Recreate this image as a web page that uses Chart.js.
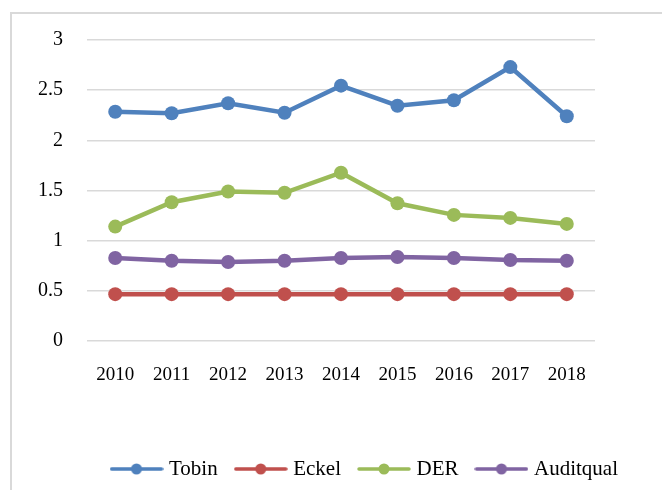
<!DOCTYPE html>
<html>
<head>
<meta charset="utf-8">
<script src="https://cdn.jsdelivr.net/npm/chart.js@4.4.1/dist/chart.umd.min.js"></script>
<style>
  html, body { margin: 0; padding: 0; background: #fff; overflow: hidden; }
  #frame { position: absolute; left: 10px; top: 12px; width: 700px; height: 520px;
           border-left: 2px solid #d9d9d9; border-top: 2px solid #d9d9d9; }
  #wrap { position: absolute; left: 0; top: 0; width: 662px; height: 510px; }
</style>
</head>
<body>
<div id="frame"></div>
<div id="wrap"><canvas id="chart"></canvas></div>
<script>
const years = ['2010', '2011', '2012', '2013', '2014', '2015', '2016', '2017', '2018'];
const tobin = [2.285, 2.27, 2.37, 2.275, 2.545, 2.345, 2.40, 2.73, 2.24];
const eckel = [0.467, 0.467, 0.467, 0.467, 0.467, 0.467, 0.467, 0.467, 0.467];
const der = [1.14, 1.383, 1.49, 1.477, 1.677, 1.373, 1.257, 1.227, 1.167];
const auditqual = [0.827, 0.80, 0.787, 0.80, 0.827, 0.837, 0.827, 0.807, 0.80];

const seriesNames = ['Tobin', 'Eckel', 'DER', 'Auditqual'];
const seriesColors = ['#4F81BD', '#C0504D', '#9BBB59', '#8064A2'];

const serif = '"Liberation Serif", "Times New Roman", serif';

// line + dot sample for the legend, like the office-style legend
function legendSample(color) {
    const c = document.createElement('canvas');
    c.width = 54;
    c.height = 14;
    const g = c.getContext('2d');
    g.strokeStyle = color;
    g.lineWidth = 3.5;
    g.lineCap = 'round';
    g.beginPath();
    g.moveTo(2, 7);
    g.lineTo(52, 7);
    g.stroke();
    g.fillStyle = color;
    g.beginPath();
    g.arc(27, 7, 5.5, 0, Math.PI * 2);
    g.fill();
    return c;
}

// moves the legend so that it sits where the reference has it
const legendShift = {
    id: 'legendShift',
    afterLayout(chart) {
        const l = chart.legend;
        const w = l.right - l.left;
        l.left = 93.5;
        l.right = l.left + w;
    }
};

const ctx = document.getElementById('chart').getContext('2d');
const lineChart = new Chart(ctx, {
    type: 'line',
    data: {
        labels: years,
        datasets: [tobin, eckel, der, auditqual].map((values, i) => ({
            label: seriesNames[i],
            data: values,
            borderColor: seriesColors[i],
            backgroundColor: seriesColors[i],
            borderWidth: 4.5,
            pointRadius: 7,
            pointHoverRadius: 7,
            pointBorderWidth: 0,
            tension: 0
        }))
    },
    options: {
        responsive: true,
        maintainAspectRatio: false,
        animation: false,
        layout: {
            padding: { left: 14, right: 67, top: 40, bottom: 20.5 }
        },
        scales: {
            x: {
                offset: true,
                grid: { display: false },
                border: { display: false },
                ticks: {
                    color: '#000',
                    padding: 15,
                    font: { family: serif, size: 19 }
                },
                afterFit(axis) { axis.height = 96.5; }
            },
            y: {
                min: 0,
                max: 3,
                grid: { color: '#d9d9d9', lineWidth: 1.5, drawTicks: false },
                border: { display: false },
                ticks: {
                    stepSize: 0.5,
                    color: '#000',
                    padding: 24,
                    font: { family: serif, size: 20 },
                    callback: v => String(+v.toFixed(2))
                }
            }
        },
        plugins: {
            tooltip: { enabled: false },
            legend: {
                position: 'bottom',
                align: 'start',
                labels: {
                    color: '#000',
                    padding: 21,
                    usePointStyle: true,
                    pointStyleWidth: 44,
                    font: { family: serif, size: 21 },
                    generateLabels(chart) {
                        const items = Chart.defaults.plugins.legend.labels.generateLabels(chart);
                        items.forEach((item, i) => { item.pointStyle = legendSample(seriesColors[i]); });
                        return items;
                    }
                }
            }
        }
    },
    plugins: [legendShift]
});
</script>
</body>
</html>
